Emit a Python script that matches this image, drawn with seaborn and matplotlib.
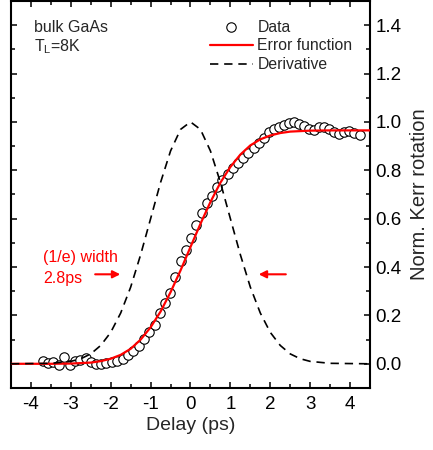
import numpy as np
import pandas as pd
import matplotlib
matplotlib.use("Agg")
import matplotlib.pyplot as plt
import seaborn as sns
from matplotlib.ticker import MultipleLocator

delay = [-3.70, -3.57, -3.44, -3.30, -3.16, -3.03, -2.90, -2.77, -2.63, -2.50,
         -2.37, -2.24, -2.11, -1.97, -1.84, -1.70, -1.57, -1.43, -1.30, -1.16,
         -1.03, -0.90, -0.77, -0.64, -0.51, -0.38, -0.24, -0.11, 0.02, 0.15,
         0.29, 0.42, 0.55, 0.67, 0.80, 0.93, 1.06, 1.19, 1.32, 1.45,
         1.58, 1.71, 1.84, 1.97, 2.10, 2.22, 2.35, 2.48, 2.60, 2.72,
         2.84, 2.97, 3.10, 3.23, 3.35, 3.48, 3.60, 3.73, 3.85, 3.98,
         4.11, 4.24]
kerr = [0.011, 0.004, 0.007, -0.007, 0.027, -0.005, 0.013, 0.015, 0.022, 0.007,
        -0.002, -0.001, 0.002, 0.008, 0.013, 0.020, 0.036, 0.052, 0.073, 0.102,
        0.132, 0.162, 0.212, 0.253, 0.293, 0.358, 0.426, 0.470, 0.520, 0.572,
        0.622, 0.663, 0.695, 0.732, 0.758, 0.785, 0.810, 0.832, 0.852, 0.872,
        0.893, 0.912, 0.935, 0.958, 0.970, 0.980, 0.986, 0.994, 0.999, 0.993,
        0.982, 0.970, 0.965, 0.980, 0.978, 0.972, 0.958, 0.950, 0.958, 0.962,
        0.953, 0.946]

# error function fit (sampled from the red curve)
fit_x = [-4.5, -3.5, -3.0, -2.5, -2.25, -2.0, -1.75, -1.5, -1.25, -1.0, -0.75, -0.5,
         -0.25, 0.0, 0.25, 0.5, 0.75, 1.0, 1.25, 1.5, 1.75, 2.0, 2.25, 2.5, 3.0, 3.5, 4.5]
fit_y = [0.0, 0.0, 0.001, 0.005, 0.011, 0.021, 0.037, 0.062, 0.100, 0.151, 0.216, 0.296,
         0.386, 0.483, 0.579, 0.669, 0.749, 0.814, 0.865, 0.903, 0.928, 0.944, 0.954,
         0.960, 0.964, 0.965, 0.965]

# derivative (sampled from the dashed curve)
der_x = [-4.5, -3.5, -3.0, -2.75, -2.5, -2.25, -2.0, -1.75, -1.5, -1.25, -1.0, -0.75,
         -0.5, -0.25, 0.0, 0.25, 0.5, 0.75, 1.0, 1.25, 1.5, 1.75, 2.0, 2.25, 2.5,
         2.75, 3.0, 3.5, 4.5]
der_y = [0.0, 0.002, 0.010, 0.021, 0.041, 0.076, 0.130, 0.210, 0.317, 0.451, 0.600,
         0.750, 0.880, 0.969, 1.0, 0.969, 0.880, 0.750, 0.600, 0.451, 0.317, 0.210,
         0.130, 0.076, 0.041, 0.021, 0.010, 0.002, 0.0]

sns.set_style("ticks")
plt.rcParams['font.family'] = ['Liberation Sans', 'DejaVu Sans']
plt.rcParams['mathtext.default'] = 'regular'

df = pd.DataFrame({'delay': delay, 'kerr': kerr})
df_fit = pd.DataFrame({'x': fit_x, 'y': fit_y})
df_der = pd.DataFrame({'x': der_x, 'y': der_y})

fig = plt.figure(figsize=(4.33, 4.5), dpi=100)
ax = fig.add_axes([0.0254, 0.1378, 0.8291, 0.8600])

sns.scatterplot(data=df, x='delay', y='kerr', ax=ax, marker='o', s=46,
                facecolor='white', edgecolor='black', linewidth=0.8,
                label='Data', zorder=2)
sns.lineplot(data=df_fit, x='x', y='y', ax=ax, color='red', lw=1.6,
             label='Error function', zorder=3)
sns.lineplot(data=df_der, x='x', y='y', ax=ax, color='black', lw=1.2,
             label='Derivative', zorder=3)
ax.lines[-1].set_dashes((5, 3.5))

ax.set_xlim(-4.5, 4.5)
ax.set_ylim(-0.1, 1.5)
ax.xaxis.set_major_locator(MultipleLocator(1))
ax.xaxis.set_minor_locator(MultipleLocator(0.5))
ax.yaxis.set_major_locator(MultipleLocator(0.2))
ax.yaxis.set_minor_locator(MultipleLocator(0.1))
ax.set_xticks(np.arange(-4, 5, 1))
ax.set_xticklabels([str(v) for v in range(-4, 5)])

ax.tick_params(which='both', direction='in', top=True, bottom=True,
               left=True, right=True, labelleft=False, labelright=True,
               width=1.1, colors='black')
ax.tick_params(which='major', length=4.5)
ax.tick_params(which='minor', length=2.8)
ax.tick_params(axis='x', labelsize=13.5, pad=6)
ax.tick_params(axis='y', labelsize=13.5, pad=4)
for s in ax.spines.values():
    s.set_linewidth(1.5)
    s.set_color('black')

ax.set_xlabel('Delay (ps)', fontsize=14, labelpad=3)
ax.yaxis.set_label_position('right')
ax.set_ylabel('Norm. Kerr rotation', fontsize=14.5, labelpad=6)

ax.legend(loc='upper left', bbox_to_anchor=(0.555, 0.952), frameon=False,
          fontsize=11.3, handlelength=2.7, handletextpad=0.3, labelspacing=0.25,
          borderpad=0, borderaxespad=0)

ax.text(-3.92, 1.392, 'bulk GaAs', fontsize=11.5, va='center', ha='left')
ax.text(-3.92, 1.31, r'T$_{L}$=8K', fontsize=11.5, va='center', ha='left')
ax.text(-3.69, 0.439, '(1/e) width', fontsize=11.5, color='red', va='center', ha='left')
ax.text(-3.69, 0.353, '2.8ps', fontsize=11.5, color='red', va='center', ha='left')

arrow = dict(arrowstyle='-|>', color='red', lw=1.5, mutation_scale=11,
             shrinkA=0, shrinkB=0)
ax.annotate('', xy=(-1.76, 0.37), xytext=(-2.39, 0.37), arrowprops=arrow)
ax.annotate('', xy=(1.71, 0.37), xytext=(2.39, 0.37), arrowprops=arrow)

fig.savefig('out.png', dpi=100)
